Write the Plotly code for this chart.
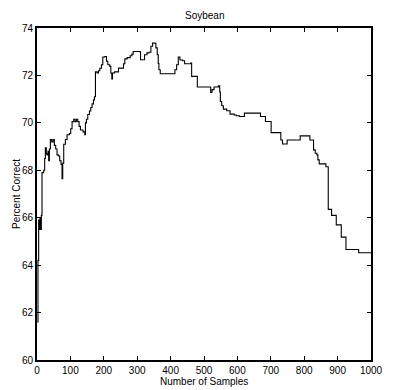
import plotly.graph_objects as go

# Learning curve for the Soybean data set: accuracy vs. number of samples seen
samples = [
    1, 3, 5, 7, 9, 11, 13, 15, 20, 23, 25, 28, 30, 33, 35, 37, 40, 44, 48, 52,
    56, 60, 64, 68, 72, 75, 77, 80, 85, 90, 97, 101, 105, 110, 114, 118, 122,
    126, 130, 138, 143, 145, 148, 152, 157, 161, 165, 169, 172, 175, 180, 184,
    188, 193, 197, 203, 208, 212, 218, 221, 224, 226, 232, 240, 244, 255, 259,
    263, 270, 279, 284, 288, 300, 308, 310, 320, 322, 329, 335, 341, 346, 353,
    356, 360, 363, 365, 369, 413, 418, 423, 428, 436, 442, 455, 460, 463, 480,
    520, 524, 530, 543, 547, 549, 553, 558, 568, 578, 590, 597, 606, 621, 669,
    684, 701, 730, 735, 749, 788, 817, 828, 833, 838, 841, 845, 865, 872, 882,
    896, 911, 925, 963, 1000,
]
percent_correct = [
    61.6, 64.2, 65.9, 65.5, 66.0, 65.5, 66.1, 67.9, 68.0, 68.5, 68.95, 68.7,
    68.65, 68.8, 68.4, 68.9, 69.3, 69.2, 69.3, 69.05, 68.9, 68.65, 68.6, 68.4,
    68.25, 67.65, 68.3, 69.1, 69.3, 69.5, 69.55, 69.75, 70.05, 70.15, 70.05,
    70.15, 70.05, 69.85, 69.7, 69.62, 69.5, 70.0, 70.15, 70.35, 70.5, 70.65,
    70.8, 70.97, 71.1, 72.15, 72.1, 72.2, 72.3, 72.45, 72.78, 72.8, 72.6, 72.45,
    72.38, 72.1, 71.85, 72.1, 72.15, 72.15, 72.31, 72.31, 72.49, 72.7, 72.75,
    72.83, 72.9, 73.01, 73.01, 73.0, 72.66, 72.66, 72.87, 72.95, 72.98, 73.23,
    73.37, 73.35, 73.16, 72.87, 72.5, 72.24, 72.07, 72.24, 72.45, 72.78, 72.65,
    72.62, 72.49, 72.49, 72.52, 71.96, 71.51, 71.28, 71.4, 71.51, 71.56, 71.3,
    70.9, 70.72, 70.58, 70.51, 70.37, 70.33, 70.3, 70.27, 70.41, 70.27, 70.06,
    69.59, 69.28, 69.11, 69.28, 69.45, 69.28, 68.86, 68.72, 68.65, 68.44, 68.27,
    68.15, 66.35, 66.1, 65.7, 65.18, 64.66, 64.52, 64.52,
]

x_ticks = list(range(0, 1001, 100))
y_ticks = list(range(60, 75, 2))

FONT = "Liberation Sans Narrow, Arial Narrow, Liberation Sans, Arial, sans-serif"
FONT_SIZE = 10

fig = go.Figure(
    go.Scatter(
        x=samples,
        y=percent_correct,
        mode="lines",
        line=dict(color="black", width=1.1, shape="hv"),
        hoverinfo="skip",
    )
)

axis_common = dict(
    showgrid=False,
    zeroline=False,
    showline=True,
    linecolor="black",
    linewidth=1.6,
    mirror="ticks",
    ticks="inside",
    ticklen=4,
    tickwidth=1,
    tickcolor="black",
    tickfont=dict(family=FONT, size=FONT_SIZE, color="black"),
)

fig.update_xaxes(range=[0, 1000], tickvals=x_ticks, **axis_common)
fig.update_yaxes(range=[60, 74], tickvals=y_ticks, **axis_common)

fig.update_layout(
    width=394,
    height=390,
    margin=dict(l=37, r=11, t=28, b=30, pad=0),
    paper_bgcolor="white",
    plot_bgcolor="white",
    showlegend=False,
    annotations=[
        dict(text="Soybean", x=0.5, y=1, xref="paper", yref="paper",
             xanchor="center", yanchor="middle", yshift=13, showarrow=False,
             font=dict(family=FONT, size=FONT_SIZE, color="black")),
        dict(text="Number of Samples", x=0.5, y=0, xref="paper", yref="paper",
             xanchor="center", yanchor="middle", yshift=-21, showarrow=False,
             font=dict(family=FONT, size=FONT_SIZE, color="black")),
        dict(text="Percent Correct", x=0, y=0.5, xref="paper", yref="paper",
             xanchor="center", yanchor="middle", xshift=-21, textangle=-90,
             showarrow=False,
             font=dict(family=FONT, size=FONT_SIZE, color="black")),
    ],
)

fig.write_html("out.html")
